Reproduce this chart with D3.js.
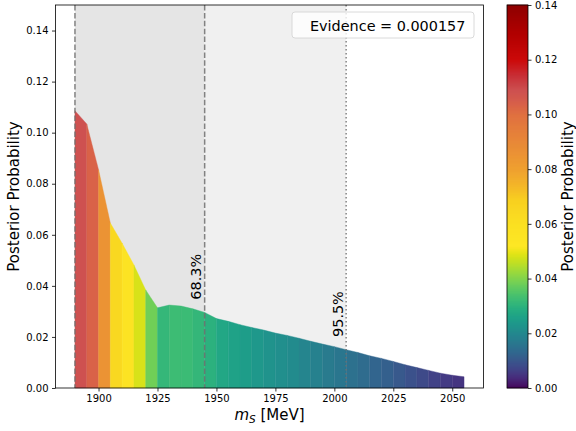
<!DOCTYPE html>
<html>
<head>
<meta charset="utf-8">
<script src="https://cdn.jsdelivr.net/npm/d3@7"></script>
<style>
  body { margin: 0; background: #fff; }
  svg text { font-family: "DejaVu Sans", sans-serif; fill: #000; }
</style>
</head>
<body>
<svg id="chart" width="576" height="431"></svg>
<script>
// Posterior of the scalar mass, sampled every 5 MeV
const massMeV = [1890, 1895, 1900, 1905, 1910, 1915, 1920, 1925, 1930, 1935,
                 1940, 1945, 1950, 1955, 1960, 1965, 1970, 1975, 1980, 1985,
                 1990, 1995, 2000, 2005, 2010, 2015, 2020, 2025, 2030, 2035,
                 2040, 2045, 2050, 2055];
const posterior = [0.1086, 0.1034, 0.0855, 0.0646, 0.0567, 0.0482, 0.0384, 0.0314, 0.0325, 0.0321,
                   0.0310, 0.0296, 0.0272, 0.0261, 0.0248, 0.0237, 0.0227, 0.0215, 0.0206, 0.0195,
                   0.0183, 0.0172, 0.0162, 0.0150, 0.0139, 0.0126, 0.0116, 0.0104, 0.0091, 0.0080,
                   0.0069, 0.0058, 0.0050, 0.0044];

// Credible intervals: shared lower edge, upper edges for 68.3% and 95.5%
const intervalLower = 1890;
const intervalUpper = [1945, 2005];
const intervalNames = ["68.3%", "95.5%"];

const evidence = 0.000157;

const xTicks = [1900, 1925, 1950, 1975, 2000, 2025, 2050];
const yTicks = [0, 0.02, 0.04, 0.06, 0.08, 0.10, 0.12, 0.14];
const cbarTicks = [0, 0.02, 0.04, 0.06, 0.08, 0.10, 0.12, 0.14];

// ---- layout ----
const plot = { left: 55.5, right: 483.5, top: 5, bottom: 388 };
const cbar = { left: 507, right: 528, top: 5, bottom: 388 };

const svg = d3.select("#chart");

// matplotlib-like x margins (5 % each side)
const xMin = d3.min(massMeV), xMax = d3.max(massMeV);
const pad = (xMax - xMin) * 0.05;
const x = d3.scaleLinear().domain([xMin - pad, xMax + pad]).range([plot.left, plot.right]);
const y = d3.scaleLinear().domain([0, 0.15]).range([plot.bottom, plot.top]);

// colour map: viridis (slightly stretched) on the low end,
// then yellow -> orange -> red -> dark red
const viridisTop = 0.052, viridisGamma = 0.8;
const warmStops = [
  [0.052, "#fde725"], [0.06, "#fbe022"], [0.0687, "#f8d020"], [0.0736, "#f4b828"], [0.08, "#efa030"],
  [0.09, "#e88838"], [0.10, "#e07040"], [0.105, "#d55c4c"], [0.109, "#cd5050"],
  [0.114, "#c83038"], [0.12, "#cc0a0a"], [0.13, "#b00000"], [0.14, "#8e0000"]
];
const warm = d3.scaleLinear()
  .domain(warmStops.map(d => d[0]))
  .range(warmStops.map(d => d[1]))
  .interpolate(d3.interpolateRgb)
  .clamp(true);
function colorOf(v) {
  if (v <= viridisTop) return d3.interpolateViridis(Math.pow(Math.max(0, v) / viridisTop, viridisGamma));
  return warm(v);
}

// ---- credible-interval shading ----
svg.append("rect")
  .attr("x", x(intervalLower)).attr("y", plot.top)
  .attr("width", x(intervalUpper[0]) - x(intervalLower))
  .attr("height", plot.bottom - plot.top)
  .attr("fill", "#e5e5e5");
svg.append("rect")
  .attr("x", x(intervalUpper[0])).attr("y", plot.top)
  .attr("width", x(intervalUpper[1]) - x(intervalUpper[0]))
  .attr("height", plot.bottom - plot.top)
  .attr("fill", "#f0f0f0");

// ---- posterior, one coloured strip per interval ----
const segs = d3.range(massMeV.length - 1).map(i => ({
  pts: [{ m: massMeV[i], p: posterior[i] }, { m: massMeV[i + 1], p: posterior[i + 1] }],
  c: colorOf(posterior[i])
}));
const area = d3.area().x(d => x(d.m)).y0(y(0)).y1(d => y(d.p));
svg.append("g").selectAll("path").data(segs).join("path")
  .attr("d", d => area(d.pts))
  .attr("fill", d => d.c)
  .attr("stroke", d => d.c)
  .attr("stroke-width", 0.4);

// ---- interval boundaries ----
const bounds = [
  { m: intervalLower, dash: "5.5,2.4" },
  { m: intervalUpper[0], dash: "5.5,2.4" },
  { m: intervalUpper[1], dash: "1.5,2.5" }
];
svg.append("g").selectAll("line").data(bounds).join("line")
  .attr("x1", d => x(d.m)).attr("x2", d => x(d.m))
  .attr("y1", plot.top).attr("y2", plot.bottom)
  .attr("stroke", "#6e6e6e").attr("stroke-opacity", 0.85)
  .attr("stroke-width", 1.5)
  .attr("stroke-dasharray", d => d.dash);

// interval labels, rotated along the boundary lines
intervalUpper.forEach((m, k) => {
  const idx = massMeV.indexOf(m);
  const px = x(m) - 3.5, py = y(posterior[idx] + 0.005);
  svg.append("text")
    .attr("transform", `translate(${px},${py}) rotate(-90)`)
    .attr("font-size", 14.4)
    .text(intervalNames[k]);
});

// ---- axes ----
const xAxis = d3.axisBottom(x).tickValues(xTicks).tickSize(3.5).tickPadding(3.5).tickSizeOuter(0)
  .tickFormat(d3.format("d"));
const gx = svg.append("g").attr("transform", `translate(0,${plot.bottom})`).call(xAxis);
gx.select(".domain").remove();
gx.selectAll("text").attr("font-size", 10).attr("font-family", "DejaVu Sans").attr("fill", "#000");
gx.selectAll("line").attr("stroke", "#000").attr("stroke-width", 0.8);

const yAxis = d3.axisLeft(y).tickValues(yTicks).tickSize(3.5).tickPadding(3.5).tickSizeOuter(0)
  .tickFormat(d3.format(".2f"));
const gy = svg.append("g").attr("transform", `translate(${plot.left},0)`).call(yAxis);
gy.select(".domain").remove();
gy.selectAll("text").attr("font-size", 10).attr("font-family", "DejaVu Sans").attr("fill", "#000");
gy.selectAll("line").attr("stroke", "#000").attr("stroke-width", 0.8);

// spines
svg.append("rect")
  .attr("x", plot.left).attr("y", plot.top)
  .attr("width", plot.right - plot.left).attr("height", plot.bottom - plot.top)
  .attr("fill", "none").attr("stroke", "#000").attr("stroke-width", 0.8);

// axis labels
const xl = svg.append("text")
  .attr("x", (plot.left + plot.right) / 2).attr("y", 420)
  .attr("text-anchor", "middle").attr("font-size", 15);
xl.append("tspan").attr("font-style", "italic").text("m");
xl.append("tspan").attr("font-style", "italic").attr("font-size", 10.5).attr("dy", 3).text("S");
xl.append("tspan").attr("dy", -3).text(" [MeV]");

svg.append("text")
  .attr("transform", `translate(19,${(plot.top + plot.bottom) / 2}) rotate(-90)`)
  .attr("text-anchor", "middle").attr("font-size", 15)
  .text("Posterior Probability");

// evidence box
const box = svg.append("g");
box.append("rect")
  .attr("x", 292).attr("y", 12).attr("width", 182).attr("height", 26).attr("rx", 3)
  .attr("fill", "#fff").attr("fill-opacity", 0.8)
  .attr("stroke", "#d0d0d0").attr("stroke-width", 0.8);
box.append("text")
  .attr("x", 310).attr("y", 30.5).attr("font-size", 14.4)
  .text(`Evidence = ${evidence.toFixed(6)}`);

// ---- colour bar ----
const cy = d3.scaleLinear().domain([0, 0.14]).range([cbar.bottom, cbar.top]);
const nSteps = Math.round(cbar.bottom - cbar.top);
const steps = d3.range(nSteps).map(i => 0.14 * (i + 0.5) / nSteps);
svg.append("g").selectAll("rect").data(steps).join("rect")
  .attr("x", cbar.left)
  .attr("y", d => cy(d) - (cbar.bottom - cbar.top) / nSteps / 2 - 0.3)
  .attr("width", cbar.right - cbar.left)
  .attr("height", (cbar.bottom - cbar.top) / nSteps + 0.6)
  .attr("fill", d => colorOf(d));
svg.append("rect")
  .attr("x", cbar.left).attr("y", cbar.top)
  .attr("width", cbar.right - cbar.left).attr("height", cbar.bottom - cbar.top)
  .attr("fill", "none").attr("stroke", "#000").attr("stroke-width", 0.8);

const cAxis = d3.axisRight(cy).tickValues(cbarTicks).tickSize(3.5).tickPadding(3.5).tickSizeOuter(0)
  .tickFormat(d3.format(".2f"));
const gc = svg.append("g").attr("transform", `translate(${cbar.right},0)`).call(cAxis);
gc.select(".domain").remove();
gc.selectAll("text").attr("font-size", 10).attr("font-family", "DejaVu Sans").attr("fill", "#000");
gc.selectAll("line").attr("stroke", "#000").attr("stroke-width", 0.8);

svg.append("text")
  .attr("transform", `translate(573,${(cbar.top + cbar.bottom) / 2}) rotate(-90)`)
  .attr("text-anchor", "middle").attr("font-size", 15)
  .text("Posterior Probability");
</script>
</body>
</html>
